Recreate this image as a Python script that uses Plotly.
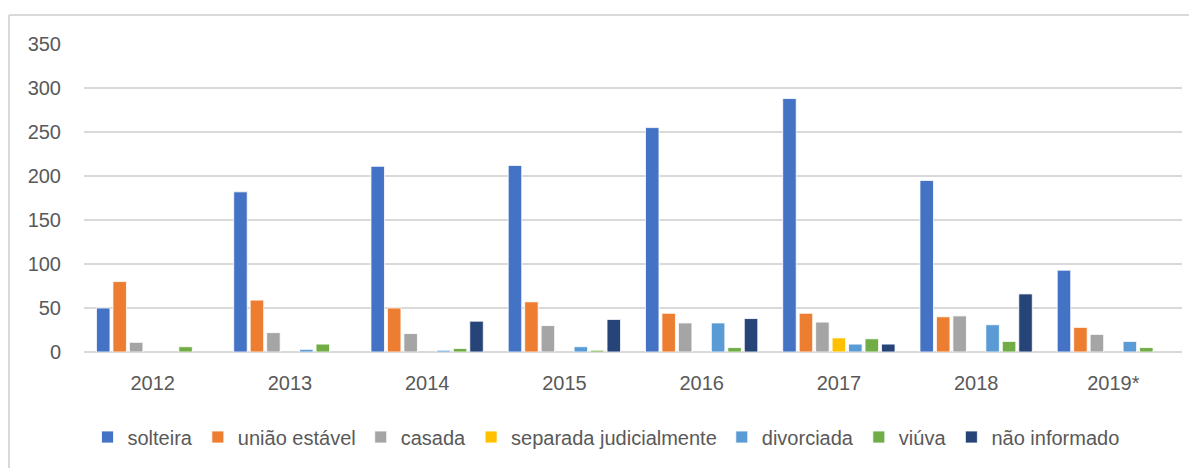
import plotly.graph_objects as go

years = ["2012", "2013", "2014", "2015", "2016", "2017", "2018", "2019*"]
solteira = [50, 182, 211, 212, 255, 288, 195, 93]
uniao_estavel = [80, 59, 50, 57, 44, 44, 40, 28]
casada = [11, 22, 21, 30, 33, 34, 41, 20]
separada_judicialmente = [None, None, None, None, None, 16, None, None]
divorciada = [None, 3, 2, 6, 33, 9, 31, 12]
viuva = [6, 9, 4, 2, 5, 15, 12, 5]
nao_informado = [None, None, 35, 37, 38, 9, 66, None]

series = [
    ("solteira", solteira, "#4472C4"),
    ("união estável", uniao_estavel, "#ED7D31"),
    ("casada", casada, "#A5A5A5"),
    ("separada judicialmente", separada_judicialmente, "#FFC000"),
    ("divorciada", divorciada, "#5B9BD5"),
    ("viúva", viuva, "#70AD47"),
    ("não informado", nao_informado, "#264478"),
]

fig = go.Figure()
for name, vals, color in series:
    fig.add_trace(go.Bar(
        x=years, y=vals, name=name,
        marker=dict(color=color, line=dict(color="white", width=0.8)),
    ))

font = "Liberation Sans, Arial, sans-serif"
W, H = 1197, 468
L, R, T, B = 76, 23, 36, 124
PH = H - T - B
PW = W - L - R
fig.update_layout(
    width=W, height=H,
    margin=dict(l=L, r=R, t=T, b=B),
    paper_bgcolor="white", plot_bgcolor="white",
    barmode="group", bargap=0.16, bargroupgap=0.18,
    font=dict(family=font, size=20, color="#595959"),
    showlegend=True,
    legend=dict(orientation="h", x=(606 - 8 - L) / PW, xanchor="center",
                y=-(429 - (T + PH)) / PH, yanchor="middle",
                font=dict(size=20, color="#595959"), itemwidth=30,
                traceorder="normal"),
    xaxis=dict(showgrid=False, showline=False, ticks="outside", ticklen=13,
               tickcolor="rgba(0,0,0,0)", tickfont=dict(size=20, color="#595959")),
    yaxis=dict(range=[0, 350], dtick=50, showgrid=True, gridcolor="#D9D9D9", gridwidth=1.5,
               zeroline=True, zerolinecolor="#D9D9D9", zerolinewidth=1.5,
               showline=False, ticks="outside", ticklen=18, tickcolor="rgba(0,0,0,0)",
               tickfont=dict(size=20, color="#595959")),
    shapes=[
        dict(type="line", xref="paper", yref="paper", x0=(1 - L) / PW, x1=(W - L) / PW,
             y0=1 + (T - 7) / PH, y1=1 + (T - 7) / PH,
             line=dict(color="#D9D9D9", width=2)),
        dict(type="line", xref="paper", yref="paper", x0=(1 - L) / PW, x1=(1 - L) / PW,
             y0=1 + (T - 7) / PH, y1=-(B) / PH,
             line=dict(color="#D9D9D9", width=2)),
    ],
)
fig.write_html("out.html")
